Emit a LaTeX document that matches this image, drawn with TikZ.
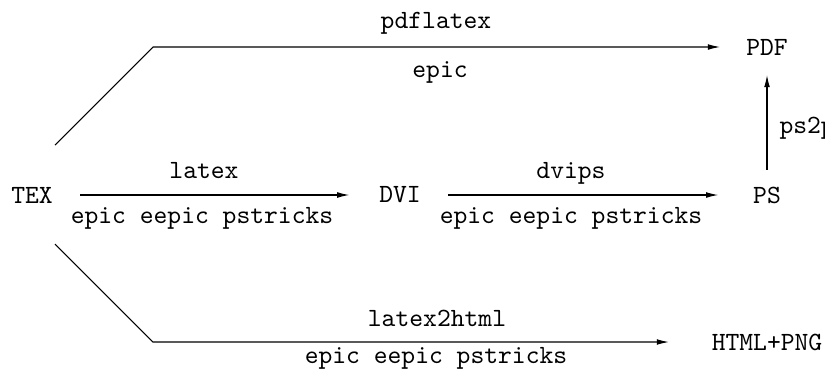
\documentclass[tikz,border=0pt]{standalone}
\usepackage{fontspec}
\usetikzlibrary{arrows.meta}
\begin{document}
\begin{tikzpicture}[x=0.38pt,y=-0.38pt,
  box/.style={inner sep=0pt,outer sep=0pt,font=\ttfamily},
  lbl/.style={inner sep=0pt,anchor=base,font=\ttfamily},
  arr/.style={-{Latex[length=4.6pt,width=2.2pt]},line width=0.4pt}]
\useasboundingbox (0,0) rectangle (825,377);
% nodes
\node[box] (tex)  at (32,195)  {TEX};
\node[box] (dvi)  at (400,195) {DVI};
\node[box] (ps)   at (767,195) {PS};
\node[box] (pdf)  at (767,47)  {PDF};
\node[box] (html) at (767,342) {HTML+PNG};
% bend points
\coordinate (t1) at (55,145);
\coordinate (c1) at (153,47);
\coordinate (b1) at (55,244);
\coordinate (c2) at (153,342);
% connectors
\draw[arr,shorten <=10.4pt,shorten >=11.4pt] (tex) -- (dvi);
\draw[arr,shorten <=10.3pt,shorten >=13.3pt] (dvi) -- (ps);
\draw[arr,shorten <=6.5pt,shorten >=7.6pt] (ps) -- (pdf);
\draw[arr,shorten >=10pt] (t1) -- (c1) -- (pdf);
\draw[arr,shorten >=16.3pt] (b1) -- (c2) -- (html);
% labels
\node[lbl] (l1) at (204,178) {latex};
\node[lbl] (l2) at (202,223) {epic eepic pstricks};
\node[lbl] (l3) at (571,178) {dvips};
\node[lbl] (l4) at (571,223) {epic eepic pstricks};
\node[lbl] (l5) at (436,28)  {pdflatex};
\node[lbl] (l6) at (440,77)  {epic};
\node[lbl] (l7) at (437,326) {latex2html};
\node[lbl] (l8) at (436,363) {epic eepic pstricks};
\node[lbl,anchor=base west] (l9) at (779,133) {ps2pdf};
\end{tikzpicture}
\end{document}
